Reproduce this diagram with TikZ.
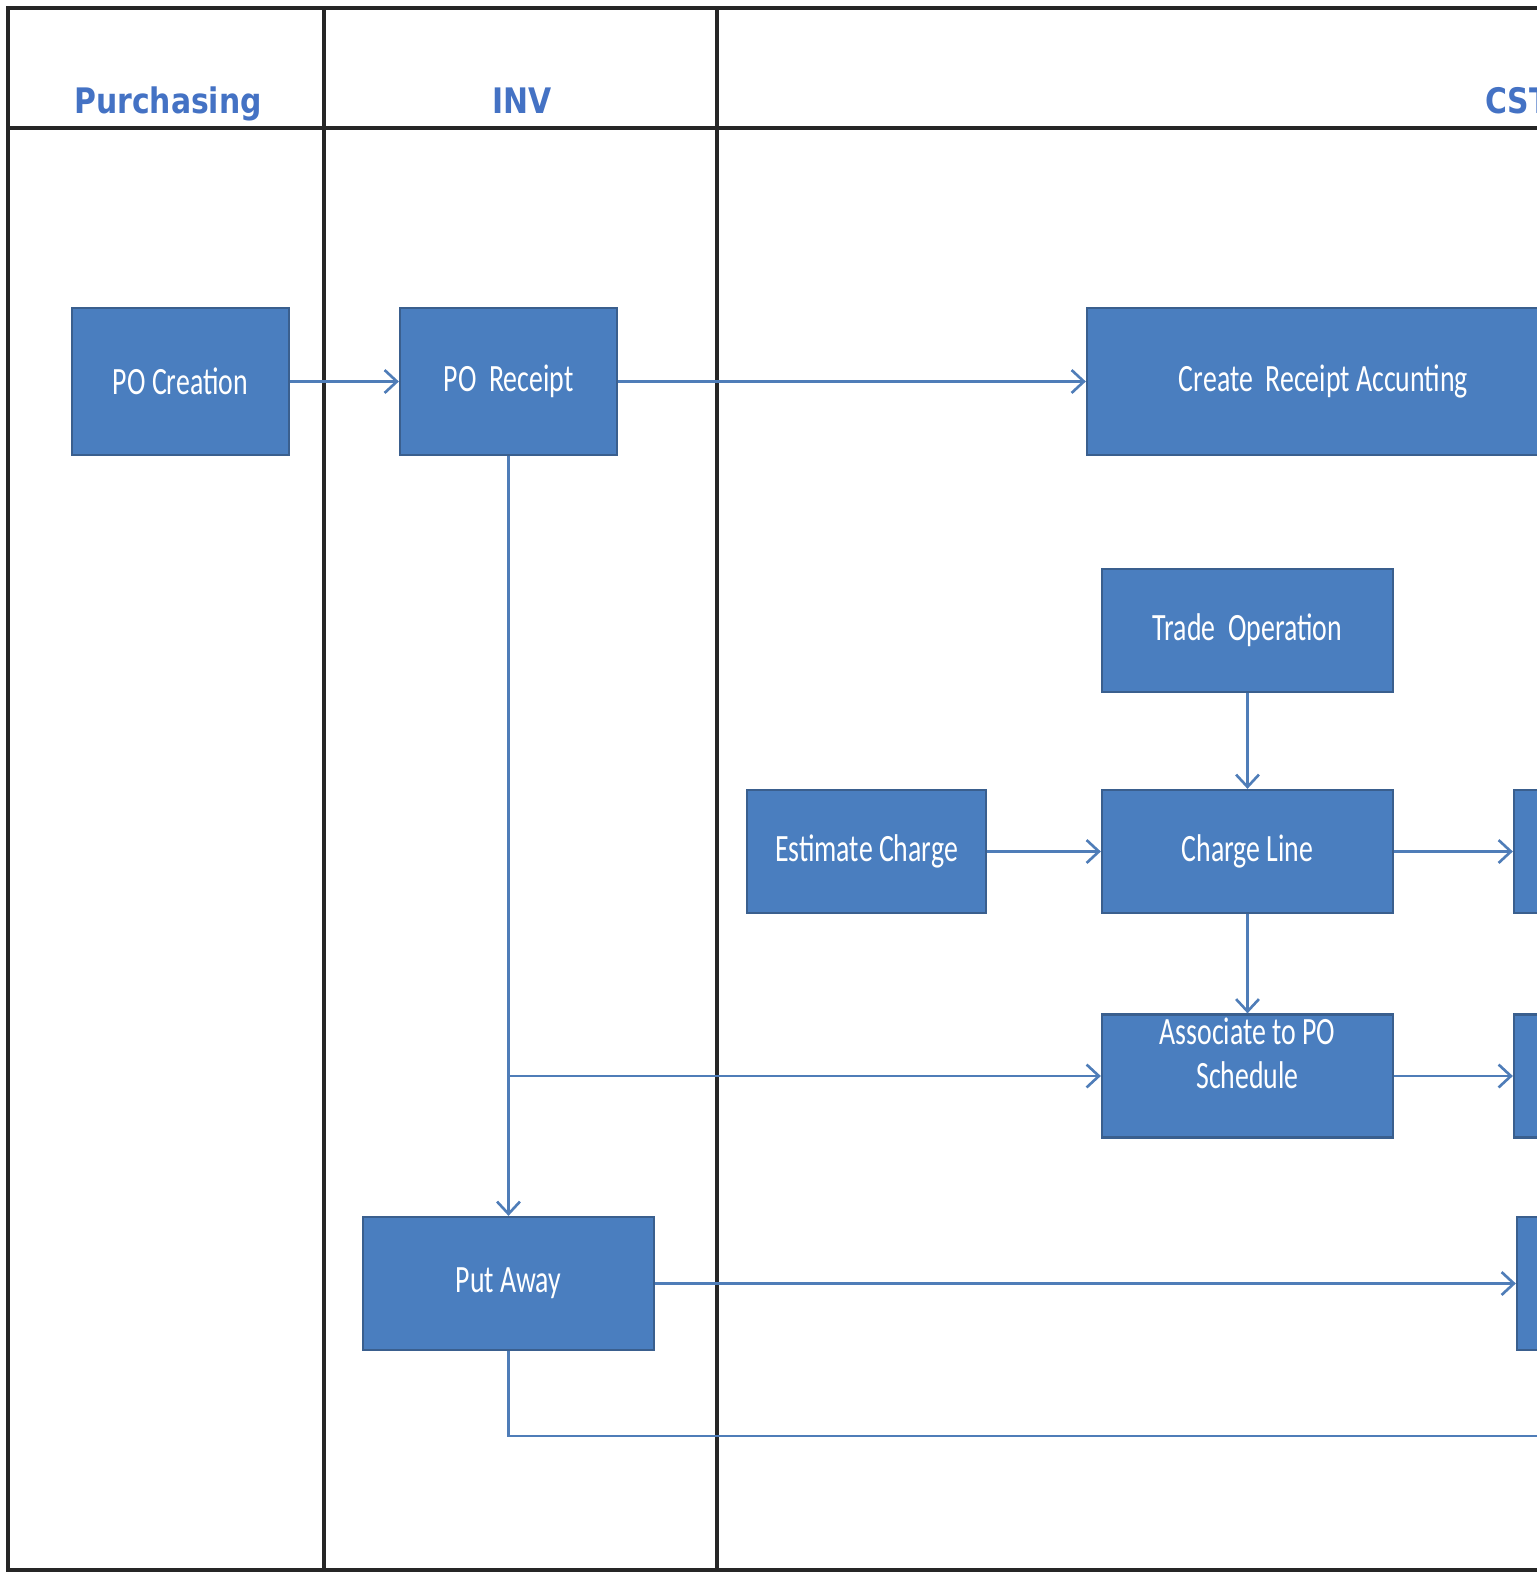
\documentclass[tikz,border=0pt]{standalone}
\usepackage{fontspec}
\newfontfamily\boxfont[FakeStretch=0.72]{Carlito}
\newfontfamily\headfont[FakeStretch=0.85]{DejaVu Sans}
\usetikzlibrary{arrows.meta, positioning}

\definecolor{boxblue}{HTML}{4A7EBF}
\definecolor{boxedge}{HTML}{3A5F8E}
\definecolor{arrowblue}{HTML}{4F7DB8}
\definecolor{headblue}{HTML}{4472C4}

\begin{document}
\begin{tikzpicture}

\tikzset{lane/.style = {draw=black!85, line width=1.9pt}}
\tikzset{head/.style = {text=headblue, font=\headfont\bfseries\fontsize{20}{24}\selectfont, inner sep=0pt}}
\tikzset{process/.style = {shape=rectangle, draw=boxedge, line width=1.3pt, fill=boxblue, text=white, font=\boxfont\fontsize{22}{25}\selectfont, align=center, minimum height=2.46cm}}
\tikzset{edge/.style = {draw=arrowblue, line width=1.5pt, ->, > = {Straight Barb[length=7pt, width=13pt]}}}

\useasboundingbox (0,0) rectangle (30.74,-31.48);
\clip (0,0) rectangle (30.74,-31.48);

%lanes
\draw[lane] (32,-0.16) -- (0.16,-0.16) -- (0.16,-31.4) -- (32,-31.4);
\draw[lane] (0.16,-2.56) -- (32,-2.56);
\draw[lane] (6.48,-0.16) -- (6.48,-31.4);
\draw[lane] (14.34,-0.16) -- (14.34,-31.4);
\node[head, anchor=base] (purch) at (3.36,-2.26) {Purchasing};
\node[head, anchor=base] (inv) at (10.44,-2.26) {INV};
\node[head, anchor=base west] (cst) at (29.7,-2.26) {CST};

%boxes
\node[process, minimum width=4.34cm, minimum height=2.94cm] (pocreate) at (3.61,-7.63) {PO Creation};
\node[process, minimum width=4.34cm, minimum height=2.94cm] (poreceipt) at (10.17,-7.63) {PO\ \ Receipt};
\node[process, minimum width=9.46cm, minimum height=2.94cm] (rcvacct) at (26.47,-7.63) {Create\ \ Receipt Accunting};
\node[process, minimum width=5.82cm] (trade) at (24.95,-12.61) {Trade\ \ Operation};
\node[process, minimum width=4.78cm] (estimate) at (17.33,-17.03) {Estimate Charge};
\node[process, minimum width=5.82cm] (charge) at (24.95,-17.03) {Charge Line};
\node[process, minimum width=5.82cm] (assoc) at (24.95,-21.52) {};
\node[text=white, font=\boxfont\fontsize{22}{25}\selectfont, align=center, inner sep=0pt, below=0.08cm of assoc.north] (assoctext) {Associate to PO\\Schedule};
\node[process, minimum width=5.82cm, minimum height=2.66cm] (putaway) at (10.17,-25.67) {Put Away};
\node[process, minimum width=5.8cm] (right1) at (33.18,-17.03) {};
\node[process, minimum width=5.8cm] (right2) at (33.18,-21.52) {};
\node[process, minimum width=5.8cm, minimum height=2.66cm] (right3) at (33.24,-25.67) {};
\coordinate (tail) at (32,-28.72);

%arrows
\draw[edge] (pocreate) -- (poreceipt);
\draw[edge] (poreceipt) -- (rcvacct);
\draw[edge] (poreceipt) -- (putaway);
\draw[edge] (poreceipt.south |- assoc.west) -- (assoc);
\draw[edge] (trade) -- (charge);
\draw[edge] (estimate) -- (charge);
\draw[edge] (charge) -- (assoc);
\draw[edge] (charge) -- (right1);
\draw[edge] (assoc) -- (right2);
\draw[edge] (putaway) -- (right3);
\draw[edge, -] (putaway.south) |- (tail);

\end{tikzpicture}
\end{document}
